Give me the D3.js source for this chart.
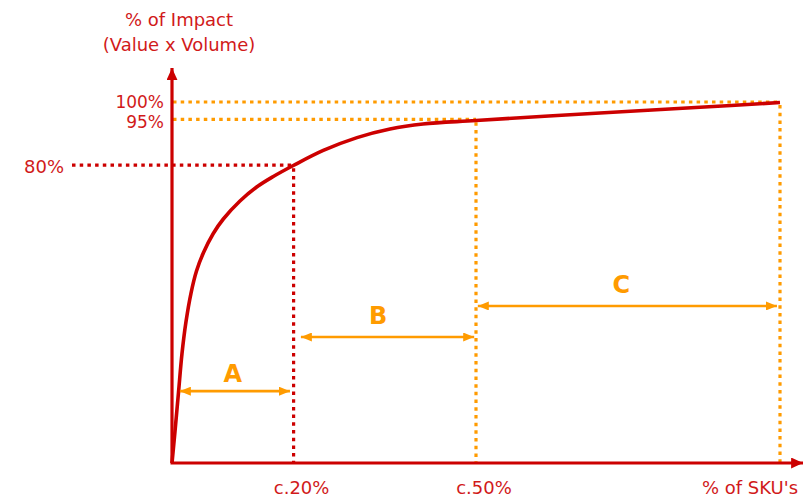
<!DOCTYPE html>
<html><head><meta charset="utf-8">
<script src="https://cdn.jsdelivr.net/npm/d3@7"></script>
<style>
html,body{margin:0;padding:0;background:#fff;}
svg{display:block;}
text{font-family:"DejaVu Sans",Verdana,sans-serif;}
</style></head>
<body>
<svg id="chart" width="803" height="499"></svg>
<script>
// ---- data ----
const curveX = [0, 0.49, 1.07, 1.64, 2.30, 3.13, 4.03, 5.15, 6.79, 8.44, 11.18, 13.93, 16.66, 19.95, 24.88, 30.43, 35.86, 41.28, 50.0, 70.39, 86.84, 100];
const curveY = [0, 8.73, 19.58, 30.25, 39.11, 47.09, 53.19, 58.17, 63.57, 67.59, 72.58, 76.45, 79.36, 82.41, 86.59, 90.14, 92.52, 93.91, 94.88, 96.95, 98.53, 99.86];
const levelLabels = ["80%", "95%", "100%"];
const levelValues = [82.5, 95.2, 100];
const levelEndX = [20, 50, 100];
const levelColors = ["red", "orange", "orange"];
const xTickLabels = ["c.20%", "c.50%"];
const xTickValues = [20, 50];
const classNames = ["A", "B", "C"];
const classStart = [1.3, 21.2, 50.3];
const classEnd = [19.4, 49.7, 99.5];
const classArrowY = [19.9, 34.9, 43.5];
const classLabelX = [10.0, 33.9, 73.9];
const classLabelY = [22.4, 38.5, 47.1];
const yTitle = ["% of Impact", "(Value x Volume)"];
const xTitle = "% of SKU's";

// ---- styles ----
const RED = "#cc0000", TXT = "#d11a1a", ORANGE = "#ff9b00";
const colorOf = c => c === "red" ? RED : ORANGE;

const svg = d3.select("#chart");
const x = d3.scaleLinear().domain([0, 100]).range([172, 780]);
const y = d3.scaleLinear().domain([0, 100]).range([463, 102]);

const defs = svg.append("defs");
function marker(id, color, w, h, orient) {
  defs.append("marker").attr("id", id)
    .attr("viewBox", `0 0 ${w} ${h}`).attr("refX", w).attr("refY", h / 2)
    .attr("markerWidth", w).attr("markerHeight", h).attr("markerUnits", "userSpaceOnUse")
    .attr("orient", orient)
    .append("path").attr("d", `M0,0L${w},${h / 2}L0,${h}Z`).attr("fill", color);
}
marker("axArrow", RED, 12, 11, "auto");
marker("orArrow", ORANGE, 11, 9, "auto-start-reverse");

// reference dotted lines
const dot = "3.5,4.2";
const labelBase = [173, 128, 108];
levelValues.forEach((v, i) => {
  const c = colorOf(levelColors[i]);
  const x0 = levelColors[i] === "red" ? 72 : x(0) + 1;
  svg.append("line").attr("x1", x0).attr("x2", x(levelEndX[i]))
    .attr("y1", y(v)).attr("y2", y(v))
    .attr("stroke", c).attr("stroke-width", 3.2).attr("stroke-dasharray", dot);
  svg.append("line").attr("x1", x(levelEndX[i])).attr("x2", x(levelEndX[i]))
    .attr("y1", y(v) + 3).attr("y2", y(0))
    .attr("stroke", c).attr("stroke-width", 3.2).attr("stroke-dasharray", dot);
  svg.append("text").attr("x", levelColors[i] === "red" ? 64 : 164)
    .attr("y", labelBase[i]).attr("text-anchor", "end")
    .attr("fill", TXT).attr("font-size", levelColors[i] === "red" ? 18 : 17).text(levelLabels[i]);
});

// axes
svg.append("line").attr("x1", x(0)).attr("y1", y(0)).attr("x2", x(0)).attr("y2", y(109.4))
  .attr("stroke", RED).attr("stroke-width", 3.2).attr("marker-end", "url(#axArrow)");
svg.append("line").attr("x1", x(0) - 1.5).attr("y1", y(0)).attr("x2", x(103.8)).attr("y2", y(0))
  .attr("stroke", RED).attr("stroke-width", 3.2).attr("marker-end", "url(#axArrow)");

// curve
const pts = curveX.map((d, i) => [d, curveY[i]]);
svg.append("path").datum(pts)
  .attr("d", d3.line().x(d => x(d[0])).y(d => y(d[1])).curve(d3.curveCatmullRom.alpha(0.5)))
  .attr("fill", "none").attr("stroke", RED).attr("stroke-width", 3.6);

// class arrows
classNames.forEach((n, i) => {
  const yy = y(classArrowY[i]);
  svg.append("line").attr("x1", x(classStart[i])).attr("x2", x(classEnd[i]))
    .attr("y1", yy).attr("y2", yy)
    .attr("stroke", ORANGE).attr("stroke-width", 2.6)
    .attr("marker-start", "url(#orArrow)").attr("marker-end", "url(#orArrow)");
  svg.append("text").attr("x", x(classLabelX[i])).attr("y", y(classLabelY[i]))
    .attr("text-anchor", "middle").attr("fill", ORANGE).attr("font-weight", "bold")
    .attr("font-family", "'Liberation Sans',Arial,sans-serif")
    .attr("font-size", 24).text(n);
});

// x tick labels
xTickValues.forEach((v, i) => {
  svg.append("text").attr("x", x(v) + 8).attr("y", 494).attr("text-anchor", "middle")
    .attr("fill", TXT).attr("font-size", 18).text(xTickLabels[i]);
});

// titles
yTitle.forEach((t, i) => {
  svg.append("text").attr("x", 179).attr("y", 26 + i * 25).attr("text-anchor", "middle")
    .attr("fill", TXT).attr("font-size", 18).text(t);
});
svg.append("text").attr("x", 750).attr("y", 494).attr("text-anchor", "middle")
  .attr("fill", TXT).attr("font-size", 18).text(xTitle);
</script>
</body></html>
